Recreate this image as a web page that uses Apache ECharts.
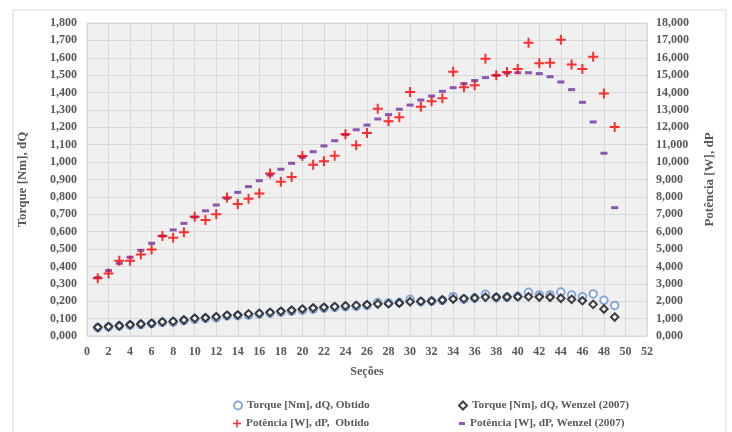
<!DOCTYPE html>
<html>
<head>
<meta charset="utf-8">
<script src="https://cdn.jsdelivr.net/npm/echarts@6/dist/echarts.min.js"></script>
<style>
  html, body { margin: 0; padding: 0; background: #fff; }
  #chart { width: 732px; height: 432px; }
</style>
</head>
<body>
<div id="chart"></div>
<script>
// Seções 1..49
const secoes = [1,2,3,4,5,6,7,8,9,10,11,12,13,14,15,16,17,18,19,20,21,22,23,24,25,
  26,27,28,29,30,31,32,33,34,35,36,37,38,39,40,41,42,43,44,45,46,47,48,49]

// Torque [Nm], dQ (eixo esquerdo)
const torqueObtido = [0.048,0.052,0.057,0.062,0.066,0.071,0.078,0.080,0.088,0.096,
  0.101,0.104,0.115,0.117,0.120,0.126,0.131,0.137,0.143,0.148,
  0.154,0.160,0.164,0.168,0.170,0.176,0.192,0.190,0.192,0.211,
  0.198,0.200,0.205,0.226,0.212,0.218,0.240,0.222,0.224,0.228,
  0.251,0.236,0.236,0.253,0.236,0.226,0.242,0.205,0.176]
const torqueWenzel = [0.050,0.054,0.059,0.065,0.069,0.073,0.081,0.084,0.092,0.102,
  0.105,0.111,0.119,0.121,0.127,0.130,0.136,0.142,0.148,0.155,
  0.161,0.165,0.169,0.173,0.176,0.180,0.184,0.186,0.190,0.197,
  0.199,0.201,0.207,0.213,0.215,0.219,0.223,0.223,0.224,0.226,
  0.226,0.224,0.223,0.217,0.211,0.203,0.182,0.155,0.109]

// Potência [W], dP (eixo direito)
const potenciaObtido = [3320,3600,4330,4330,4680,4980,5750,5650,5960,6860,
  6670,7000,7970,7590,7900,8200,9350,8870,9140,10350,
  9850,10050,10370,11600,10970,11670,13070,12350,12580,14030,
  13190,13500,13670,15200,14300,14420,15950,14990,15180,15360,
  16870,15680,15720,17040,15620,15360,16060,13940,12020]
const potenciaWenzel = [3360,3760,4180,4530,4930,5330,5750,6100,6480,6840,
  7200,7530,7920,8260,8590,8930,9260,9590,9930,10280,
  10600,10930,11230,11580,11860,12130,12480,12730,13040,13280,
  13570,13800,14070,14280,14510,14690,14860,14990,15110,15140,
  15140,15090,14910,14610,14170,13440,12310,10510,7380]

const nomes = [
  'Torque [Nm], dQ, Obtido',
  'Torque [Nm], dQ, Wenzel (2007)',
  'Potência [W], dP,  Obtido',
  'Potência [W], dP, Wenzel (2007)'
]

const fonte = 'Liberation Serif'
const cinza = '#595959'
const plus = 'path://M4,0H6V4H10V6H6V10H4V6H0V4H4Z'

const pares = arr => arr.map((v, i) => [secoes[i], v])

const legenda = (nome, left, top, w, h) => ({
  data: [nome],
  left: left,
  top: top,
  itemWidth: w,
  itemHeight: h,
  textStyle: { fontFamily: fonte, fontWeight: 'bold', fontSize: 11.3, color: cinza }
})

let myChart = echarts.init(document.getElementById('chart'))
myChart.setOption({
  animation: false,
  backgroundColor: '#fff',
  textStyle: { fontFamily: fonte },
  graphic: [{
    type: 'rect',
    shape: { x: 13, y: 10, width: 713, height: 440 },
    style: { fill: 'none', stroke: '#d9d9d9', lineWidth: 1 },
    silent: true
  }],
  grid: {
    left: 87,
    right: 85,
    top: 23,
    bottom: 96,
    show: true,
    backgroundColor: '#f0f0f0',
    borderColor: '#d9d9d9',
    borderWidth: 1
  },
  legend: [
    legenda(nomes[0], 228, 395, 8, 8),
    legenda(nomes[1], 453, 395, 8, 8),
    legenda(nomes[2], 228, 413, 8, 8),
    legenda(nomes[3], 454, 413, 6, 3)
  ],
  xAxis: {
    type: 'value',
    min: 0,
    max: 52,
    interval: 2,
    name: 'Seções',
    nameLocation: 'middle',
    nameGap: 30,
    nameTextStyle: { fontFamily: fonte, fontWeight: 'bold', fontSize: 12, color: cinza },
    axisLine: { show: false },
    axisTick: { show: false },
    axisLabel: { margin: 10, fontFamily: fonte, fontWeight: 'bold', fontSize: 12, color: cinza },
    splitLine: { show: true, lineStyle: { color: '#d9d9d9', width: 1 } }
  },
  yAxis: [
    {
      type: 'value',
      min: 0,
      max: 1.8,
      interval: 0.1,
      name: 'Torque [Nm], dQ',
      nameLocation: 'middle',
      nameGap: 58,
      nameRotate: 90,
      nameTextStyle: { fontFamily: fonte, fontWeight: 'bold', fontSize: 13, color: cinza },
      axisLine: { show: false },
      axisTick: { show: false },
      axisLabel: {
        margin: 10,
        fontFamily: fonte, fontWeight: 'bold', fontSize: 12, color: cinza,
        formatter: v => v.toFixed(3).replace('.', ',')
      },
      splitLine: { show: true, lineStyle: { color: '#d9d9d9', width: 1 } }
    },
    {
      type: 'value',
      min: 0,
      max: 18000,
      interval: 1000,
      position: 'right',
      name: 'Potência [W], dP',
      nameLocation: 'middle',
      nameGap: 56,
      nameRotate: 90,
      nameTextStyle: { fontFamily: fonte, fontWeight: 'bold', fontSize: 13, color: cinza },
      axisLine: { show: false },
      axisTick: { show: false },
      axisLabel: {
        margin: 9,
        fontFamily: fonte, fontWeight: 'bold', fontSize: 12, color: cinza,
        formatter: v => (v / 1000).toFixed(3).replace('.', ',')
      },
      splitLine: { show: false }
    }
  ],
  series: [
    {
      name: nomes[0],
      type: 'scatter',
      yAxisIndex: 0,
      symbol: 'emptyCircle',
      symbolSize: 7.5,
      itemStyle: { color: '#6b93d0', borderColor: '#6b93d0', borderWidth: 1.6 },
      data: pares(torqueObtido)
    },
    {
      name: nomes[1],
      type: 'scatter',
      yAxisIndex: 0,
      symbol: 'emptyDiamond',
      symbolSize: 7.5,
      itemStyle: { color: '#111', borderColor: '#111', borderWidth: 2 },
      data: pares(torqueWenzel)
    },
    {
      name: nomes[3],
      type: 'scatter',
      yAxisIndex: 1,
      symbol: 'rect',
      symbolSize: [7, 3],
      itemStyle: { color: '#7030a0' },
      data: pares(potenciaWenzel)
    },
    {
      name: nomes[2],
      type: 'scatter',
      yAxisIndex: 1,
      symbol: plus,
      symbolSize: 10,
      itemStyle: { color: '#ff0000' },
      data: pares(potenciaObtido)
    }
  ]
})
window.addEventListener('resize', () => {
  myChart.resize()
})
</script>
</body>
</html>
